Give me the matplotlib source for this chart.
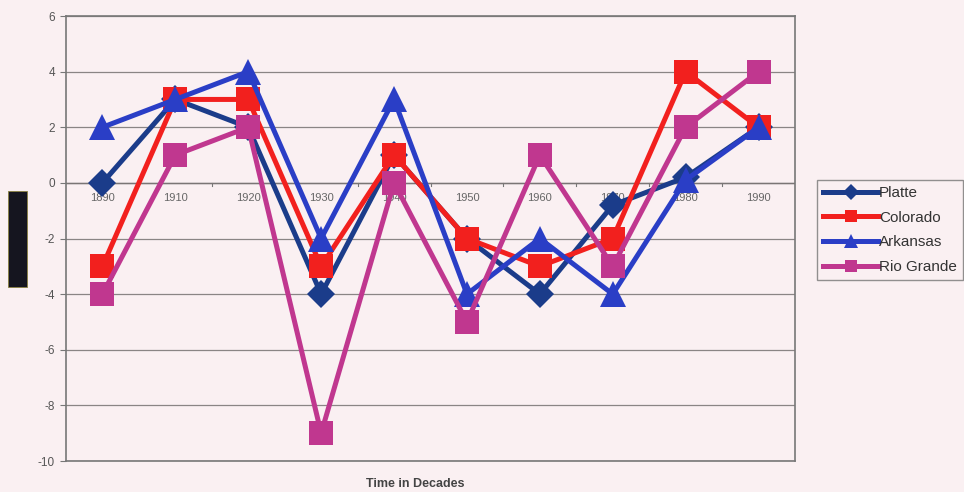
import matplotlib
matplotlib.use("Agg")
import matplotlib.pyplot as plt
from matplotlib.patches import Rectangle
import numpy as np

plt.rcParams['font.family'] = ['Liberation Sans', 'DejaVu Sans']

decades = ["1890", "1910", "1920", "1930", "1940", "1950", "1960", "1970", "1980", "1990"]
platte = [0, 3, 2, -4, 1, -2, -4, -0.8, 0.2, 2]
colorado = [-3, 3, 3, -3, 1, -2, -3, -2, 4, 2]
arkansas = [2, 3, 4, -2, 3, -4, -2, -4, 0.1, 2]
rio_grande = [-4, 1, 2, -9, 0, -5, 1, -3, 2, 4]

series = [
    ("Platte", platte, "#1b3c8a", "D", 14),
    ("Colorado", colorado, "#f2201e", "s", 17),
    ("Arkansas", arkansas, "#2a3ec6", "^", 19),
    ("Rio Grande", rio_grande, "#c0378f", "s", 17),
]

bg = "#faf0f2"
W, H = 964, 492
fig = plt.figure(figsize=(W / 100, H / 100), dpi=100, facecolor=bg)
ax = fig.add_axes([66 / W, 1 - 461 / H, (795 - 66) / W, (461 - 16) / H])
ax.set_facecolor(bg)

x = np.arange(len(decades))
handles = []
for name, vals, color, marker, ms in series:
    h, = ax.plot(x, vals, color=color, lw=3.6, marker=marker, ms=ms,
                 markeredgewidth=0, label=name, zorder=3)
    handles.append(h)

ax.set_xlim(-0.5, len(decades) - 0.5)
ax.set_ylim(-10, 6)
ax.set_yticks(np.arange(-10, 7, 2))
ax.set_yticklabels([str(v) for v in range(-10, 7, 2)], fontsize=8.5, color="#555555")
ax.tick_params(axis="y", length=4, color="#777777", pad=4)
ax.grid(axis="y", color="#8a8585", lw=0.9)
ax.set_axisbelow(True)

# category labels sit under the zero line
ax.set_xticks([])
for xi, lab in zip(x, decades):
    ax.text(xi, -0.35, lab, ha="center", va="top", fontsize=8, color="#666666", zorder=2)
# boundary ticks on the zero line
for xb in np.arange(0.5, len(decades) - 0.5, 1):
    ax.plot([xb, xb], [0, -0.12], color="#777777", lw=0.8, zorder=1)
ax.axhline(0, color="#7a7575", lw=1.0, zorder=1)

for s in ax.spines.values():
    s.set_color("#777777")
    s.set_linewidth(1.2)

fig.text(415 / W, 1 - 484 / H, "Time in Decades", ha="center", va="center",
         fontsize=9, fontweight="bold", color="#444444")

# dark y-axis title block
fig.patches.append(Rectangle((8 / W, 1 - 287 / H), 19 / W, 96 / H,
                             transform=fig.transFigure, facecolor="#15151f",
                             edgecolor="#8a8040", lw=0.6))

leg = fig.legend(handles=handles, loc="upper left",
                 bbox_to_anchor=(817 / W, 1 - 180 / H),
                 frameon=True, fancybox=False, fontsize=11,
                 handlelength=3.6, handletextpad=0.05, markerscale=0.55,
                 labelspacing=0.7, borderpad=0.4, borderaxespad=0)
leg.get_frame().set_facecolor(bg)
leg.get_frame().set_edgecolor("#777777")
leg.get_frame().set_linewidth(1.0)
for t in leg.get_texts():
    t.set_color("#333333")

fig.savefig("out.png", dpi=100, facecolor=bg)
